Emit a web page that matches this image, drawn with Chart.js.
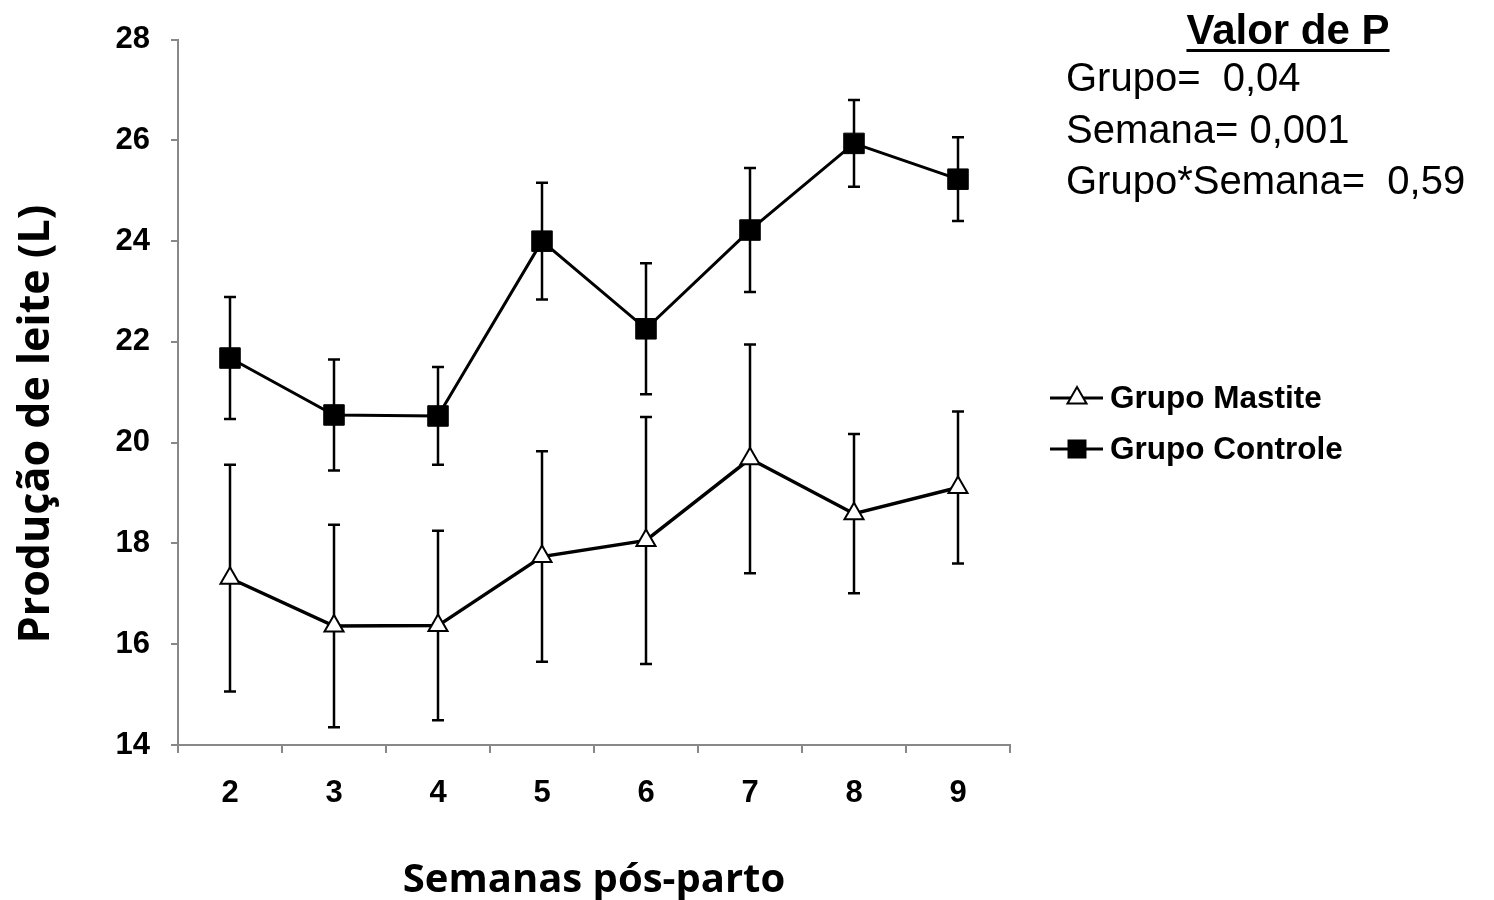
<!DOCTYPE html>
<html>
<head>
<meta charset="utf-8">
<script src="https://cdn.jsdelivr.net/npm/chart.js@4.4.0/dist/chart.umd.min.js"></script>
<style>
  html,body{margin:0;padding:0;background:#fff;}
  #wrap{width:1494px;height:900px;}
</style>
</head>
<body>
<div id="wrap"><canvas id="myChart"></canvas></div>
<script>
  let semanas=['2','3','4','5','6','7','8','9'];
  let controle=[21.68,20.55,20.53,24.0,22.26,24.22,25.94,25.23];
  let controleErr=[1.21,1.1,0.97,1.16,1.3,1.23,0.86,0.83];
  let mastite=[17.31,16.36,16.37,17.74,18.06,19.68,18.59,19.11];
  let mastiteErr=[2.25,2.01,1.88,2.09,2.45,2.27,1.58,1.51];
  let yTicks=[14,16,18,20,22,24,26,28];
  let pTitulo='Valor de P';
  let pValores=['Grupo=  0,04','Semana= 0,001','Grupo*Semana=  0,59'];

  const axisGray='#888888';

  // error bars under the points
  const errorBars={
    id:'errorBars',
    beforeDatasetsDraw(chart){
      const ctx=chart.ctx, xs=chart.scales.x, ys=chart.scales.y;
      ctx.save();
      ctx.strokeStyle='#000';
      ctx.lineWidth=2.5;
      chart.data.datasets.forEach(ds=>{
        ds.data.forEach((v,i)=>{
          const px=xs.getPixelForValue(i);
          const top=ys.getPixelForValue(v+ds.err[i]);
          const bot=ys.getPixelForValue(v-ds.err[i]);
          ctx.beginPath();
          ctx.moveTo(px,top);ctx.lineTo(px,bot);
          ctx.moveTo(px-6,top);ctx.lineTo(px+6,top);
          ctx.moveTo(px-6,bot);ctx.lineTo(px+6,bot);
          ctx.stroke();
        });
      });
      ctx.restore();
    }
  };

  // y title, legend and p-value box
  const extras={
    id:'extras',
    afterDraw(chart){
      const ctx=chart.ctx;
      ctx.save();
      ctx.fillStyle='#000';
      // y title
      ctx.save();
      ctx.translate(37,424);
      ctx.rotate(-Math.PI/2);
      ctx.font='bold 43px "Open Sans"';
      ctx.textAlign='center';
      ctx.textBaseline='middle';
      ctx.fillText('Produção de leite (L)',0,0);
      ctx.restore();

      // legend
      const rows=[398,449];
      chart.data.datasets.forEach((ds,i)=>{
        const y=rows[i];
        ctx.strokeStyle='#000';
        ctx.lineWidth=3;
        ctx.beginPath();ctx.moveTo(1050,y);ctx.lineTo(1103,y);ctx.stroke();
        ctx.fillStyle=ds.pointBackgroundColor;
        ctx.strokeStyle='#000';
        ctx.lineWidth=2;
        Chart.helpers.drawPoint(ctx,{pointStyle:ds.pointStyle,radius:ds.legendRadius,rotation:0,borderWidth:2},1077,y);
        ctx.fillStyle='#000';
        ctx.font='bold 31.5px "Liberation Sans"';
        ctx.textAlign='left';
        ctx.textBaseline='middle';
        ctx.fillText(ds.label,1110,y+1);
      });

      // p-values
      ctx.fillStyle='#000';
      ctx.font='bold 42px "Liberation Sans"';
      ctx.textAlign='center';
      ctx.textBaseline='alphabetic';
      ctx.fillText(pTitulo,1288,44);
      const w=ctx.measureText(pTitulo).width;
      ctx.fillRect(1288-w/2,49,w,3);
      ctx.font='40px "Liberation Sans"';
      ctx.textAlign='left';
      const base=[91,143,194];
      pValores.forEach((t,i)=>ctx.fillText(t,1066,base[i]));
      ctx.restore();
    }
  };

  const ctx=document.getElementById('myChart').getContext('2d');
  const myChart=new Chart(ctx,{
    type:'line',
    data:{
      labels:semanas,
      datasets:[{
        label:'Grupo Mastite',
        data:mastite,
        err:mastiteErr,
        borderColor:'#000',
        borderWidth:3.5,
        pointStyle:'triangle',
        pointRadius:11,
        legendRadius:11,
        pointBackgroundColor:'#fff',
        pointBorderColor:'#000',
        pointBorderWidth:2,
        tension:0
      },{
        label:'Grupo Controle',
        data:controle,
        err:controleErr,
        borderColor:'#000',
        borderWidth:3,
        pointStyle:'rect',
        pointRadius:14.5,
        legendRadius:12,
        pointBackgroundColor:'#000',
        pointBorderColor:'#000',
        pointBorderWidth:1,
        tension:0
      }]
    },
    options:{
      responsive:true,
      maintainAspectRatio:false,
      animation:false,
      layout:{padding:{top:38,right:484,left:0,bottom:0}},
      plugins:{legend:{display:false},tooltip:{enabled:false}},
      scales:{
        x:{
          offset:true,
          grid:{offset:true,drawOnChartArea:false,tickLength:8,color:axisGray,lineWidth:2},
          border:{color:axisGray,width:2},
          ticks:{color:'#000',font:{family:'Liberation Sans',size:31,weight:'bold'},padding:22,maxRotation:0},
          title:{display:true,text:'Semanas pós-parto',color:'#000',font:{family:'Open Sans',size:40,weight:'bold'},padding:{top:0,bottom:-5}},
          afterFit(s){s.height=155;}
        },
        y:{
          min:14,max:28,
          afterBuildTicks(s){s.ticks=yTicks.map(v=>({value:v}));},
          grid:{drawOnChartArea:false,tickLength:7,color:axisGray,lineWidth:2},
          border:{color:axisGray,width:2},
          ticks:{color:'#000',font:{family:'Liberation Sans',size:31,weight:'bold'},padding:21},
          afterFit(s){s.width=178;}
        }
      }
    },
    plugins:[errorBars,extras]
  });
</script>
</body>
</html>
